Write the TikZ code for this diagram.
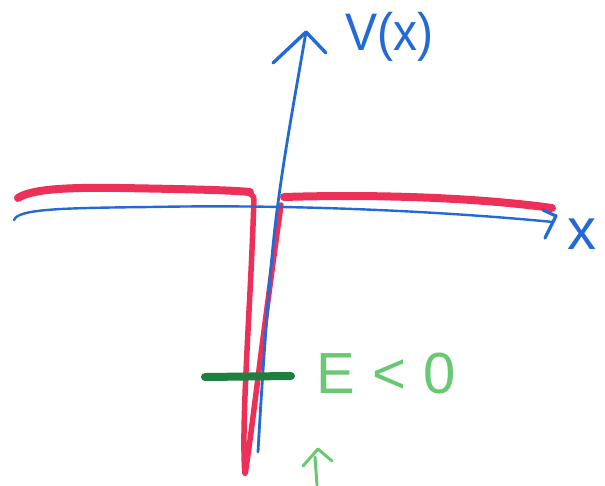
\documentclass[tikz,border=0pt]{standalone}
\usepackage{fontspec}
\setmainfont{Liberation Sans}
\definecolor{penblue}{RGB}{35,105,215}
\definecolor{penred}{RGB}{236,48,88}
\definecolor{pengreen}{RGB}{105,200,115}
\definecolor{pendkgreen}{RGB}{30,128,62}
\tikzset{
  axis/.style={penblue, line width=2.8pt, line cap=round, line join=round},
  pot/.style={penred, line cap=round, line join=round},
  lbl/.style={inner sep=0pt, font=\fontsize{34}{34}\selectfont}
}
\begin{document}
\begin{tikzpicture}[x=1pt,y=-1pt]
\useasboundingbox (0,0) rectangle (605,485);
\fill[white] (0,0) rectangle (605,485);

% red potential (drawn first, below axes)
\draw[pot, line width=8pt] (18,198) .. controls (30,190) and (60,187) .. (120,188)
   .. controls (180,189) and (230,190) .. (250,192);
\draw[pot, line width=5.5pt, rounded corners=3pt] (246,192) -- (254,196)
   .. controls (251,300) and (241,420) .. (245,475)
   .. controls (252,430) and (262,340) .. (281,205);
\draw[pot, line width=8pt] (284,197) .. controls (380,194) and (480,198) .. (552,208);

% x axis
\coordinate (xs) at (14,220);
\coordinate (xe) at (553,222);
\draw[axis, line width=2.4pt] (xs) .. controls (18,209) and (60,208) .. (150,207)
   .. controls (300,204) and (450,212) .. (xe);
\draw[axis, line width=3.2pt] (543,210) -- (556,216) -- (545,238);
\node[penblue, lbl, font=\fontsize{58}{58}\selectfont] (xl) at (582,234) {x};

% V axis
\coordinate (vb) at (258,452);
\coordinate (vt) at (306,32);
\draw[axis] (vb) .. controls (262,380) and (270,260) .. (278,203)
   .. controls (285,150) and (296,90) .. (vt);
\draw[axis, line width=3.4pt] (273,63) -- (vt) -- (326,53);
\node[penblue, lbl, font=\fontsize{48}{48}\selectfont, yscale=1.1] (vl) at (389,37) {V(x)};

% energy level
\draw[pendkgreen, line width=8pt, line cap=round] (205,377) -- (291,376);
\node[pengreen, lbl, font=\fontsize{58}{58}\selectfont] (el) at (386,374) {E\hspace{0.3em}<\hspace{0.3em}0};

% small arrow
\coordinate (ab) at (317,485);
\coordinate (at) at (318,449);
\draw[pengreen, line width=3pt, line cap=round, line join=round] (303,466) -- (at) -- (332,461);
\draw[pengreen, line width=3pt, line cap=round] (315,457) -- (ab);
\end{tikzpicture}
\end{document}
